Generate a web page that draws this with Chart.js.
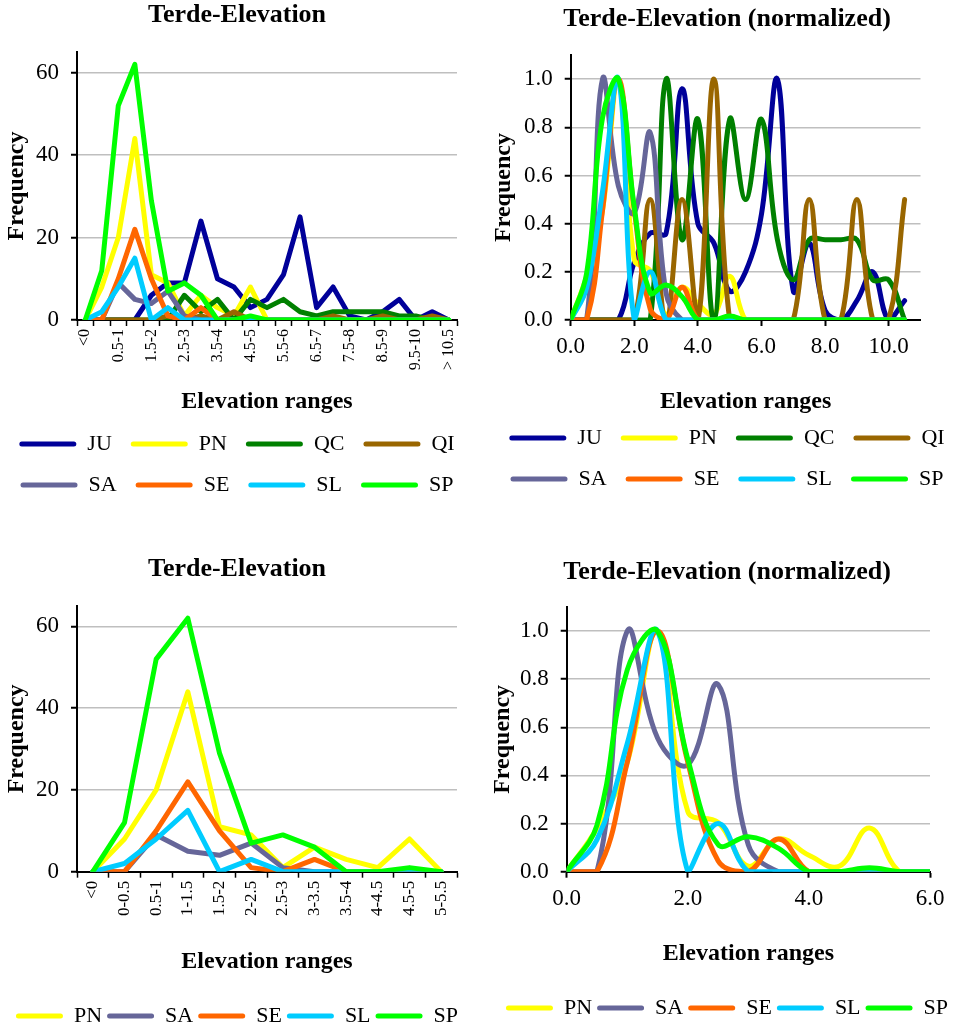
<!DOCTYPE html>
<html>
<head>
<meta charset="utf-8">
<script src="https://cdn.jsdelivr.net/npm/chart.js@4.4.1/dist/chart.umd.min.js"></script>
<style>
  html, body { margin: 0; padding: 0; background: #fff; overflow: hidden; }
  body { width: 963px; height: 1030px; position: relative; }
  canvas { position: absolute; }
</style>
</head>
<body>
<canvas id="rawAll" width="480" height="506" style="left:-3px;top:0"></canvas>
<canvas id="normAll" width="494" height="500" style="left:480px;top:0"></canvas>
<canvas id="rawLow" width="480" height="487" style="left:-3px;top:550px"></canvas>
<canvas id="normLow" width="494" height="479" style="left:480px;top:550px"></canvas>
<script>
// elevation classes (categories) and their upper bounds used on the normalized charts
const elevRanges = ["<0", "0-0.5", "0.5-1", "1-1.5", "1.5-2", "2-2.5", "2.5-3", "3-3.5",
  "3.5-4", "4-4.5", "4.5-5", "5-5.5", "5.5-6", "6-6.5", "6.5-7", "7-7.5", "7.5-8",
  "8-8.5", "8.5-9", "9-9.5", "9.5-10", "10-10.5", "> 10.5"];
const elevX = [0, 0.5, 1, 1.5, 2, 2.5, 3, 3.5, 4, 4.5, 5, 5.5, 6, 6.5, 7, 7.5, 8, 8.5, 9, 9.5, 10, 10.5];

// frequencies per species
const JU = [0, 0, 0, 0, 6, 9, 9, 24, 10, 8, 3, 5, 11, 25, 3, 8, 1, 0, 2, 5, 0, 2, 0];
const PN = [0, 8, 20, 44, 11, 9, 1, 6, 3, 1, 8, 0, 0, 0, 0, 0, 0, 0, 0, 0, 0, 0, 0];
const QC = [0, 0, 0, 0, 0, 0, 6, 2, 5, 0, 5, 3, 5, 2, 1, 2, 2, 2, 2, 1, 1, 0, 0];
const QI = [0, 0, 0, 0, 0, 1, 0, 1, 0, 2, 0, 0, 0, 0, 0, 1, 0, 0, 1, 0, 0, 1, 0];
const SA = [0, 0, 9, 5, 4, 7, 1, 0, 0, 0, 0, 0, 0, 0, 0, 0, 0, 0, 0, 0, 0, 0, 0];
const SE = [0, 0, 10, 22, 10, 1, 0, 3, 0, 0, 0, 0, 0, 0, 0, 0, 0, 0, 0, 0, 0, 0, 0];
const SL = [0, 2, 8, 15, 0, 3, 0, 0, 0, 0, 0, 0, 0, 0, 0, 0, 0, 0, 0, 0, 0, 0, 0];
const SP = [0, 12, 52, 62, 29, 7, 9, 6, 0, 0, 1, 0, 0, 0, 0, 0, 0, 0, 0, 0, 0, 0, 0];

const freqTicks = [0, 20, 40, 60];
const normTicks = [0, 0.2, 0.4, 0.6, 0.8, 1.0];
const normXTicks = [0, 2, 4, 6, 8, 10];

const allSpecies = ["JU", "PN", "QC", "QI", "SA", "SE", "SL", "SP"];
const lowSpecies = ["PN", "SA", "SE", "SL", "SP"];
const series = { JU, PN, QC, QI, SA, SE, SL, SP };

const colors = {
  JU: "#000099", PN: "#ffff00", QC: "#008000", QI: "#996600",
  SA: "#666699", SE: "#ff6600", SL: "#00ccff", SP: "#00ff00"
};

Chart.defaults.font.family = '"Liberation Serif", "Times New Roman", serif';
Chart.defaults.color = "#000";

function lineStyle(name, idx, total) {
  return {
    label: name,
    borderColor: colors[name],
    backgroundColor: colors[name],
    borderWidth: 5,
    pointRadius: 0,
    borderJoinStyle: "round",
    borderCapStyle: "round",
    yAxisID: "y",
    order: total - idx
  };
}

function rawSets(names, count) {
  return names.map((name, i) => Object.assign(lineStyle(name, i, names.length), {
    data: series[name].slice(0, count),
    tension: 0
  }));
}

// each species divided by its own maximum
function normSets(names, count) {
  return names.map((name, i) => {
    const vals = series[name];
    const peak = Math.max(...vals);
    return Object.assign(lineStyle(name, i, names.length), {
      data: elevX.slice(0, count).map((x, k) => ({ x: x, y: vals[k] / peak })),
      tension: 0.4
    });
  });
}

function yAxis(max, ticks, width, titlePad, fmt) {
  return {
    min: 0, max: max,
    afterBuildTicks: (a) => { a.ticks = ticks.map((v) => ({ value: v })); },
    afterFit: (s) => { s.width = width; },
    grid: { color: "#bfbfbf", lineWidth: 1.5, tickColor: "#000", tickWidth: 2, tickLength: 6 },
    border: { color: "#000", width: 2 },
    ticks: { font: { size: 23 }, color: "#000", padding: 12, callback: fmt },
    title: {
      display: true, text: "Frequency", color: "#000",
      font: { size: 24, weight: "bold" }, padding: { top: titlePad, bottom: 0 }
    }
  };
}

function xTitle(pad) {
  return {
    display: true, text: "Elevation ranges", color: "#000",
    font: { size: 24, weight: "bold" }, padding: { top: 0, bottom: pad }
  };
}

function rangeAxis(height, titlePad, size, every) {
  return {
    type: "category", offset: true,
    afterFit: (s) => { s.height = height; },
    grid: { offset: true, drawOnChartArea: false, tickColor: "#000", tickWidth: 1.5, tickLength: 6 },
    border: { color: "#000", width: 2 },
    ticks: {
      autoSkip: false, minRotation: 90, maxRotation: 90, padding: 3,
      font: { size: size }, color: "#000",
      callback: function (v, i) { return i % every === 0 ? this.getLabelForValue(v) : ""; }
    },
    title: xTitle(titlePad)
  };
}

function normXAxis(max, height, titlePad) {
  return {
    type: "linear", min: 0, max: max,
    afterBuildTicks: (a) => { a.ticks = normXTicks.filter((v) => v <= max).map((v) => ({ value: v })); },
    afterFit: (s) => { s.height = height; },
    grid: { drawOnChartArea: false, tickColor: "#000", tickWidth: 2, tickLength: 6 },
    border: { color: "#000", width: 2 },
    ticks: { font: { size: 23 }, color: "#000", padding: 7, callback: (v) => v.toFixed(1) },
    title: xTitle(titlePad)
  };
}

// empty right-hand strip so title and legend stay centred on the whole canvas
function spacer(width) {
  return {
    type: "linear", axis: "y", position: "right", display: true,
    grid: { display: false }, border: { display: false }, ticks: { display: false },
    afterFit: (s) => { s.width = width; }
  };
}

function legendOpts(boxWidth, padding) {
  return {
    position: "bottom",
    labels: {
      boxWidth: boxWidth, boxHeight: 5, padding: padding,
      font: { size: 22 }, color: "#000",
      useBorderRadius: true, borderRadius: 2.5,
      sort: (a, b) => a.datasetIndex - b.datasetIndex,
      generateLabels: (chart) =>
        Chart.defaults.plugins.legend.labels.generateLabels(chart).map((l) => Object.assign(l, { lineWidth: 0 }))
    }
  };
}

function titleOpts(text, top, bottom) {
  return {
    display: true, text: text, color: "#000",
    font: { size: 26, weight: "bold" }, padding: { top: top, bottom: bottom }
  };
}

const fmt1 = (v) => v.toFixed(1);

new Chart(document.getElementById("rawAll"), {
  type: "line",
  data: { labels: elevRanges, datasets: rawSets(allSpecies, elevRanges.length) },
  options: {
    responsive: false, animation: false, events: [],
    scales: {
      x: rangeAxis(94, -2.4, 16, 2),
      y: yAxis(65, freqTicks, 80, 5.6),
      yPad: spacer(20)
    },
    plugins: { title: titleOpts("Terde-Elevation", 0, 20.8), legend: legendOpts(57, 19), tooltip: { enabled: false } }
  }
});

new Chart(document.getElementById("normAll"), {
  type: "line",
  data: { datasets: normSets(allSpecies, elevX.length) },
  options: {
    responsive: false, animation: false, events: [],
    scales: {
      x: normXAxis(11, 88, -8.4),
      y: yAxis(1.1, normTicks, 90.7, 9.6, fmt1),
      yPad: spacer(53.5)
    },
    plugins: { title: titleOpts("Terde-Elevation (normalized)", 3.4, 20.4), legend: legendOpts(57, 19), tooltip: { enabled: false } }
  }
});

new Chart(document.getElementById("rawLow"), {
  type: "line",
  data: { labels: elevRanges.slice(0, 12), datasets: rawSets(lowSpecies, 12) },
  options: {
    responsive: false, animation: false, events: [],
    scales: {
      x: rangeAxis(128.3, 23.6, 17, 1),
      y: yAxis(65, freqTicks, 80, 5.6),
      yPad: spacer(20)
    },
    plugins: { title: titleOpts("Terde-Elevation", 3.4, 21.4), legend: legendOpts(47, 5), tooltip: { enabled: false } }
  }
});

new Chart(document.getElementById("normLow"), {
  type: "line",
  data: { datasets: normSets(lowSpecies, 13) },
  options: {
    responsive: false, animation: false, events: [],
    scales: {
      x: normXAxis(6, 120.3, 24.3),
      y: yAxis(1.1, normTicks, 86.7, 8.1, fmt1),
      yPad: spacer(44)
    },
    plugins: { title: titleOpts("Terde-Elevation (normalized)", 6.4, 19.4), legend: legendOpts(47, 5), tooltip: { enabled: false } }
  }
});
</script>
</body>
</html>
